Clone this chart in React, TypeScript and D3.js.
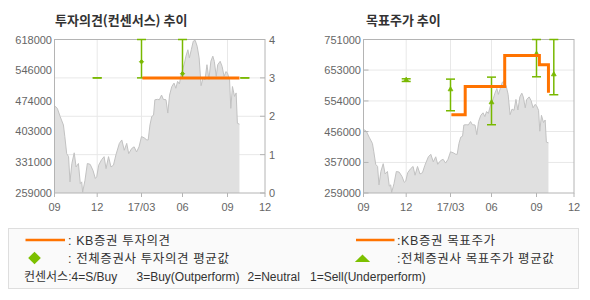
import React from 'react';
import * as d3 from 'd3';

// ---------- data ----------
const priceData: [string, number][] = [
  ['2016-09-01', 463000], ['2016-09-04', 460000], ['2016-09-07', 457000], ['2016-09-13', 438000],
  ['2016-09-20', 418000], ['2016-09-23', 391000], ['2016-09-27', 351000], ['2016-10-01', 344000],
  ['2016-10-04', 285000], ['2016-10-08', 328000], ['2016-10-13', 353000], ['2016-10-17', 320000],
  ['2016-10-22', 328000], ['2016-10-26', 281000], ['2016-10-29', 285000], ['2016-10-31', 261000],
  ['2016-11-05', 289000], ['2016-11-10', 328000], ['2016-11-16', 326000], ['2016-11-22', 312000],
  ['2016-11-27', 293000], ['2016-11-30', 297000], ['2016-12-04', 324000], ['2016-12-10', 337000],
  ['2016-12-15', 344000], ['2016-12-19', 316000], ['2016-12-24', 344000], ['2016-12-29', 320000],
  ['2017-01-03', 324000], ['2017-01-08', 348000], ['2017-01-15', 375000], ['2017-01-20', 383000],
  ['2017-01-25', 359000], ['2017-01-30', 375000], ['2017-02-03', 351000], ['2017-02-09', 363000],
  ['2017-02-14', 367000], ['2017-02-19', 355000], ['2017-02-24', 367000], ['2017-03-01', 391000],
  ['2017-03-07', 388000], ['2017-03-13', 383000], ['2017-03-16', 383000], ['2017-03-20', 418000],
  ['2017-03-24', 438000], ['2017-03-28', 441000], ['2017-03-31', 477000], ['2017-04-06', 478000],
  ['2017-04-10', 477000], ['2017-04-15', 488000], ['2017-04-19', 478000], ['2017-04-25', 477000],
  ['2017-04-29', 446000], ['2017-05-03', 488000], ['2017-05-08', 508000], ['2017-05-13', 516000],
  ['2017-05-17', 504000], ['2017-05-21', 520000], ['2017-05-25', 514000], ['2017-05-29', 536000],
  ['2017-06-01', 547000], ['2017-06-05', 563000], ['2017-06-08', 579000], ['2017-06-12', 594000],
  ['2017-06-15', 575000], ['2017-06-19', 594000], ['2017-06-23', 614000], ['2017-06-27', 616000],
  ['2017-07-01', 602000], ['2017-07-05', 575000], ['2017-07-09', 510000], ['2017-07-13', 528000],
  ['2017-07-17', 524000], ['2017-07-21', 559000], ['2017-07-25', 525000], ['2017-07-29', 567000],
  ['2017-08-02', 579000], ['2017-08-05', 567000], ['2017-08-09', 532000], ['2017-08-12', 559000],
  ['2017-08-17', 567000], ['2017-08-21', 555000], ['2017-08-25', 532000], ['2017-08-29', 543000],
  ['2017-09-01', 539000], ['2017-09-06', 524000], ['2017-09-09', 457000], ['2017-09-13', 508000],
  ['2017-09-18', 485000], ['2017-09-22', 493000], ['2017-09-25', 422000], ['2017-09-30', 420000],
];

const monthTicks = ['2016-09-01', '2016-12-01', '2017-03-01', '2017-06-01', '2017-09-01', '2017-12-01'];
const monthLabels = ['09', '12', '17/03', '06', '09', '12'];

const leftPriceTicks = [259000, 331000, 403000, 474000, 546000, 618000];
const rightPriceTicks = [259000, 357000, 456000, 554000, 653000, 751000];
const opinionTicks = [0, 1, 2, 3, 4];

const kbDates = ['2017-03-03', '2017-04-03', '2017-06-28', '2017-09-08', '2017-09-30'];
const kbOpinion = [3, 3, 3, 3, 3];
const kbTarget = [510000, 600000, 700000, 670000, 580000];

const consDates = ['2016-12-01', '2017-03-01', '2017-06-01', '2017-09-01', '2017-10-13'];
const consOpMin = [3, 3, 3, 3, 3];
const consOpMax = [3, 4, 4, 3, 3];
const consOpAvg = [3, 3.42, 3.11, 3, 3];
const consTpMin = [616500, 522600, 477800, 631500, 574000];
const consTpMax = [625000, 624000, 630400, 751000, 751000];
const consTpAvg = [621500, 591000, 549300, 705000, 639000];

const titleLeft = '투자의견(컨센서스) 추이';
const titleRight = '목표주가 추이';

// ---------- styles ----------
const ORANGE = '#ff7300';
const GREEN = '#78b800';
const AXIS = '#b4b4b4';
const GRID = '#e8e8e8';
const LABEL = '#666666';
const FONT = "'Liberation Sans', Arial, 'Noto Sans CJK KR', sans-serif";
const KFONT = "'Noto Sans CJK KR', 'Liberation Sans', sans-serif";

const TOP = 39.5;
const BOTTOM = 193;
const xRel = [0, 42.7, 87, 128, 173, 210.5];

const parse = d3.timeParse('%Y-%m-%d');

type Pt = { d: Date; v: number };
const prices: Pt[] = priceData.map(([d, v]) => ({ d: parse(d)!, v }));

function makeX(x0: number) {
  return d3.scaleTime<number>()
    .domain(monthTicks.map((m) => parse(m)!))
    .range(xRel.map((r) => x0 + r));
}

function PriceArea({ x, y }: { x: d3.ScaleTime<number, number>; y: d3.ScaleLinear<number, number> }) {
  const area = d3.area<Pt>().x((p) => x(p.d)).y0(BOTTOM).y1((p) => y(p.v));
  const line = d3.line<Pt>().x((p) => x(p.d)).y((p) => y(p.v));
  return (
    <g>
      <path d={area(prices) || ''} fill="#e0e0e0" />
      <path d={line(prices) || ''} fill="none" stroke="#c2c2c2" strokeWidth={1} />
    </g>
  );
}

function XAxis({ x }: { x: d3.ScaleTime<number, number> }) {
  return (
    <g>
      {monthTicks.map((m, i) => {
        const px = x(parse(m)!);
        return (
          <g key={m}>
            <line x1={px} x2={px} y1={BOTTOM} y2={BOTTOM + 4} stroke={AXIS} />
            <text x={px} y={211} textAnchor="middle" fontSize={11} fill={LABEL} fontFamily={FONT}>
              {monthLabels[i]}
            </text>
          </g>
        );
      })}
    </g>
  );
}

function ErrorBars({ x, y, min, max, avg, marker }: {
  x: d3.ScaleTime<number, number>; y: d3.ScaleLinear<number, number>;
  min: number[]; max: number[]; avg: number[]; marker: 'diamond' | 'triangle';
}) {
  const symPath = marker === 'diamond'
    ? d3.symbol().type(d3.symbolSquare).size(9)()
    : d3.symbol().type(d3.symbolTriangle).size(10)();
  const rot = marker === 'diamond' ? ' rotate(45)' : '';
  return (
    <g>
      {consDates.map((dd, i) => {
        const px = x(parse(dd)!);
        const y1 = y(min[i]);
        const y2 = y(max[i]);
        const showMarker = min[i] !== max[i];
        return (
          <g key={dd} stroke={GREEN} strokeWidth={1.5}>
            <line x1={px} x2={px} y1={y1} y2={y2} />
            <line x1={px - 4.5} x2={px + 4.5} y1={y1} y2={y1} />
            <line x1={px - 4.5} x2={px + 4.5} y1={y2} y2={y2} />
            {showMarker && (
              <path d={symPath || ''} transform={`translate(${px},${y(avg[i])})${rot}`} fill={GREEN} stroke={GREEN} strokeWidth={0.8} />
            )}
          </g>
        );
      })}
    </g>
  );
}

function LeftChart() {
  const x0 = 54.5;
  const x = makeX(x0);
  const x1 = x0 + xRel[xRel.length - 1];
  const yP = d3.scaleLinear().domain([259000, 618000]).range([BOTTOM, TOP]);
  const yO = d3.scaleLinear().domain([0, 4]).range([BOTTOM, TOP]);
  const kbLine = d3.line<number>()
    .x((_, i) => x(parse(kbDates[i])!))
    .y((v) => yO(v))
    .curve(d3.curveStepAfter);
  return (
    <g>
      <text x={55} y={25} fontSize={13} fontWeight="bold" fill="#333" fontFamily={KFONT}>{titleLeft}</text>
      {opinionTicks.slice(1, -1).map((t) => (
        <line key={t} x1={x0} x2={x1} y1={yO(t)} y2={yO(t)} stroke={GRID} />
      ))}
      {monthTicks.slice(1, -1).map((m) => (
        <line key={m} x1={x(parse(m)!)} x2={x(parse(m)!)} y1={TOP} y2={BOTTOM} stroke={GRID} />
      ))}
      <PriceArea x={x} y={yP} />
      <rect x={x0} y={TOP} width={x1 - x0} height={BOTTOM - TOP} fill="none" stroke={AXIS} />
      {opinionTicks.map((t) => (
        <g key={t}>
          <line x1={x1 - 5} x2={x1} y1={yO(t)} y2={yO(t)} stroke={AXIS} />
          <text x={x1 + 4} y={yO(t) + 4} fontSize={11} fill={LABEL} fontFamily={FONT}>{t}</text>
        </g>
      ))}
      {leftPriceTicks.map((t) => (
        <text key={t} x={52} y={yP(t) + 4} textAnchor="end" fontSize={11} fill={LABEL} fontFamily={FONT}>{t}</text>
      ))}
      <XAxis x={x} />
      <ErrorBars x={x} y={yO} min={consOpMin} max={consOpMax} avg={consOpAvg} marker="diamond" />
      <path d={kbLine(kbOpinion) || ''} fill="none" stroke={ORANGE} strokeWidth={3} />
    </g>
  );
}

function RightChart() {
  const x0 = 363.5;
  const x = makeX(x0);
  const x1 = x0 + xRel[xRel.length - 1];
  const yP = d3.scaleLinear().domain([259000, 751000]).range([BOTTOM, TOP]);
  const kbLine = d3.line<number>()
    .x((_, i) => x(parse(kbDates[i])!))
    .y((v) => yP(v))
    .curve(d3.curveStepAfter);
  return (
    <g>
      <text x={366} y={25} fontSize={13} fontWeight="bold" fill="#333" fontFamily={KFONT}>{titleRight}</text>
      {rightPriceTicks.slice(1, -1).map((t) => (
        <line key={t} x1={x0} x2={x1} y1={yP(t)} y2={yP(t)} stroke={GRID} />
      ))}
      {monthTicks.slice(1, -1).map((m) => (
        <line key={m} x1={x(parse(m)!)} x2={x(parse(m)!)} y1={TOP} y2={BOTTOM} stroke={GRID} />
      ))}
      <PriceArea x={x} y={yP} />
      <rect x={x0} y={TOP} width={x1 - x0} height={BOTTOM - TOP} fill="none" stroke={AXIS} />
      {rightPriceTicks.map((t) => (
        <g key={t}>
          <line x1={x0} x2={x0 + 5} y1={yP(t)} y2={yP(t)} stroke={AXIS} />
          <text x={361} y={yP(t) + 4} textAnchor="end" fontSize={11} fill={LABEL} fontFamily={FONT}>{t}</text>
        </g>
      ))}
      <XAxis x={x} />
      <ErrorBars x={x} y={yP} min={consTpMin} max={consTpMax} avg={consTpAvg} marker="triangle" />
      <path d={kbLine(kbTarget) || ''} fill="none" stroke={ORANGE} strokeWidth={3} />
    </g>
  );
}

function Legend() {
  const t = { fontSize: 12.5, letterSpacing: 0.6, fill: '#333', fontFamily: FONT } as const;
  const t3 = { fontSize: 12, fill: '#333', fontFamily: FONT } as const;
  const square = d3.symbol().type(d3.symbolSquare).size(80)();
  const tri = d3.symbol().type(d3.symbolTriangle).size(60)();
  return (
    <g>
      <rect x={8.5} y={228.5} width={570} height={60} fill="#fafafa" stroke="#dedede" />
      <line x1={25.5} x2={65} y1={240} y2={240} stroke={ORANGE} strokeWidth={2.5} />
      <text x={68} y={244.5} {...t}>: KB증권 투자의견</text>
      <path d={square || ''} transform="translate(34.5,258) rotate(45)" fill="#7cc000" />
      <text x={68} y={262.5} {...t}>: 전체증권사 투자의견 평균값</text>
      <line x1={356} x2={394.5} y1={240} y2={240} stroke={ORANGE} strokeWidth={2.5} />
      <text x={397} y={244.5} {...t}>:KB증권 목표주가</text>
      <path d={tri || ''} transform="translate(362.5,259.5) scale(1.3,0.75)" fill="#7cc000" />
      <text x={397} y={262.5} {...t}>:전체증권사 목표주가 평균값</text>
      <text x={24} y={281} {...t3}>컨센서스:4=S/Buy</text>
      <text x={136.5} y={281} {...t3}>3=Buy(Outperform)</text>
      <text x={247.5} y={281} {...t3}>2=Neutral</text>
      <text x={310} y={281} {...t3}>1=Sell(Underperform)</text>
    </g>
  );
}

export default function App() {
  return (
    <svg width={590} height={300} style={{ position: 'absolute', left: 0, top: 0, background: '#fff' }}>
      <LeftChart />
      <RightChart />
      <Legend />
    </svg>
  );
}
